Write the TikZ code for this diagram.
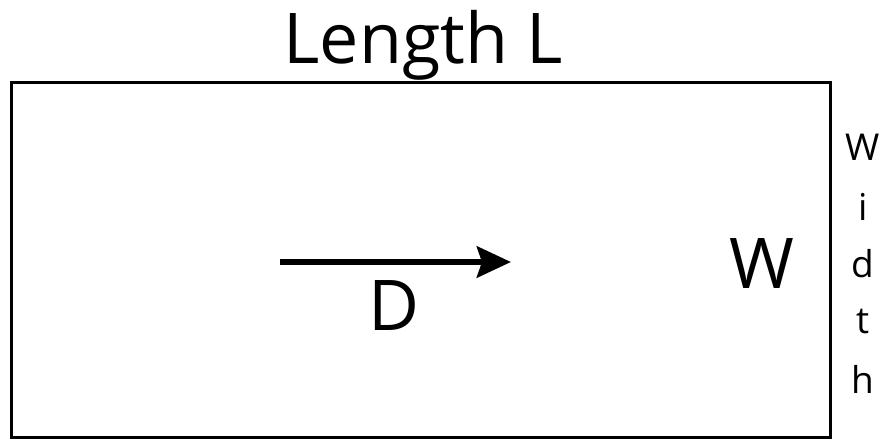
\documentclass[tikz,border=0pt]{standalone}
\usepackage{fontspec}
\setmainfont{Open Sans}
\usetikzlibrary{arrows.meta}
\tikzset{
  big/.style={font=\fontsize{70}{80}\selectfont, inner sep=0pt, anchor=base},
  small/.style={font=\fontsize{37}{44}\selectfont, inner sep=0pt, anchor=base},
}
\begin{document}
\begin{tikzpicture}[x=1pt,y=-1pt]
\useasboundingbox (0,0) rectangle (891,440);
\draw[line width=3pt] (11,82) rectangle (830,437);
\node[big] (len) at (423,63) {Length L};
\coordinate (a1) at (280,262);
\coordinate (a2) at (511,262);
\draw[line width=6.5pt, -{Stealth[length=34pt,width=31pt,inset=5pt]}] (a1) -- (a2);
\node[big] (d) at (394,330) {D};
\node[big] (w) at (762,288) {W};
\node[small] (w1) at (863,160) {W};
\node[small] (w2) at (863,220) {i};
\node[small] (w3) at (863,277) {d};
\node[small] (w4) at (863,333) {t};
\node[small] (w5) at (863,393) {h};
\end{tikzpicture}
\end{document}
